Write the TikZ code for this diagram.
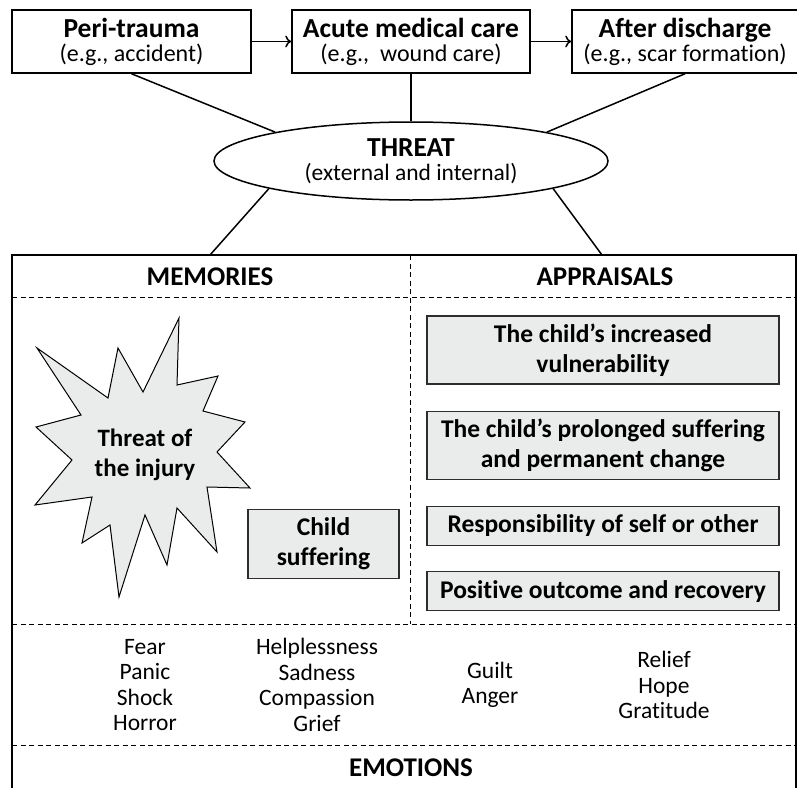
\documentclass[tikz,border=0pt]{standalone}
\usepackage{fontspec}
\setmainfont[RawFeature=-liga]{Carlito}
\usepackage{tikz}
\newcommand{\stagelabel}[2]{{\bfseries\fontsize{27.5}{28}\selectfont #1}\\[-2pt]#2}
\usetikzlibrary{shapes, arrows.meta, positioning}
\definecolor{boxgray}{RGB}{234,235,235}
\definecolor{edgegray}{RGB}{45,45,45}
\tikzstyle{stage} = [draw, line width=1.5pt, rectangle, minimum height=63pt, inner sep=0pt, align=center, font=\fontsize{24}{26}\selectfont]
\tikzstyle{threatshape} = [draw, line width=1.5pt, ellipse, minimum width=394pt, minimum height=78pt, inner sep=0pt, align=center, font=\fontsize{23.5}{26}\selectfont]
\tikzstyle{heading} = [font=\bfseries\fontsize{27}{30}\selectfont]
\tikzstyle{appraisal} = [draw=edgegray, fill=boxgray, line width=1.2pt, rectangle, minimum width=352pt, inner sep=0pt, align=center, font=\bfseries\fontsize{25.5}{30}\selectfont]
\tikzstyle{emotion} = [align=center, font=\fontsize{23.5}{25.5}\selectfont]
\tikzstyle{divider} = [line width=1pt, dash pattern=on 5pt off 3.5pt]
\tikzstyle{link} = [line width=1.5pt]

\begin{document}
\begin{tikzpicture}[x=1pt, y=-1pt]
	\useasboundingbox (0,0) rectangle (797,787);
	% time line
	\node[stage, minimum width=239pt] (peri) at (131.5,41.5) {\stagelabel{Peri-trauma}{(e.g., accident)}};
	\node[stage, minimum width=238pt] (acute) at (411,41.5) {\stagelabel{Acute medical care}{(e.g.,\ \ wound care)}};
	\node[stage, minimum width=226pt] (after) at (685,41.5) {\stagelabel{After discharge}{(e.g., scar formation)}};
	\draw[link, -{To[length=6pt, width=12pt]}] (peri) -- (acute);
	\draw[link, -{To[length=6pt, width=12pt]}] (acute) -- (after);
	\node[threatshape] (threat) at (411,161) {{\bfseries\fontsize{27.5}{28}\selectfont THREAT}\\[-2pt](external and internal)};
	\draw[link] (peri.south) -- (threat.168);
	\draw[link] (acute.south) -- (threat.north);
	\draw[link] (after.south) -- (threat.12);
	% frame
	\coordinate (memtop) at (210,255);
	\coordinate (apptop) at (602,255);
	\draw[link] (threat.191) -- (memtop);
	\draw[link] (threat.349) -- (apptop);
	\draw[link] (12,792) -- (12,255) -- (796,255) -- (796,792);
	\draw[divider] (12,297) -- (796,297);
	\draw[divider] (12,624) -- (796,624);
	\draw[divider] (12,745) -- (796,745);
	\draw[divider] (410,255) -- (410,624);
	\node[heading] (memories) at (210,277) {MEMORIES};
	\node[heading] (appraisals) at (605,277) {APPRAISALS};
	% memories
	\draw[line width=1pt, fill=boxgray] (179,318) -- (177,385) -- (218,376) -- (203,411) -- (245,422)
		-- (217,452) -- (250,488) -- (207,487) -- (217,552) -- (177,508) -- (167,565)
		-- (145,515) -- (119,597) -- (110,525) -- (82,543) -- (92,497) -- (35,505)
		-- (72,460) -- (36,427) -- (81,415) -- (37,348) -- (108,398) -- (118,348)
		-- (143,392) -- cycle;
	\node[align=center, font=\bfseries\fontsize{25}{30}\selectfont] (injury) at (145,455) {Threat of\\the injury};
	\node[appraisal, minimum width=151pt, minimum height=69pt] (suffering) at (323.5,544) {Child\\suffering};
	% appraisals
	\node[appraisal, minimum height=68pt] (vulnerable) at (603,350) {The child's increased\\vulnerability};
	\node[appraisal, minimum height=68pt, below=26pt of vulnerable] (prolonged) {The child's prolonged suffering\\and permanent change};
	\node[appraisal, minimum height=39pt, below=26pt of prolonged] (blame) {Responsibility of self or other};
	\node[appraisal, minimum height=39pt, below=25pt of blame] (recovery) {Positive outcome and recovery};
	% emotions
	\node[emotion] (fear) at (145,685) {Fear\\Panic\\Shock\\Horror};
	\node[emotion] (sadness) at (317,685) {Helplessness\\Sadness\\Compassion\\Grief};
	\node[emotion] (guilt) at (490,685) {Guilt\\Anger};
	\node[emotion] (relief) at (664,685) {Relief\\Hope\\Gratitude};
	\node[heading] (emotions) at (411,768) {EMOTIONS};
\end{tikzpicture}
\end{document}
